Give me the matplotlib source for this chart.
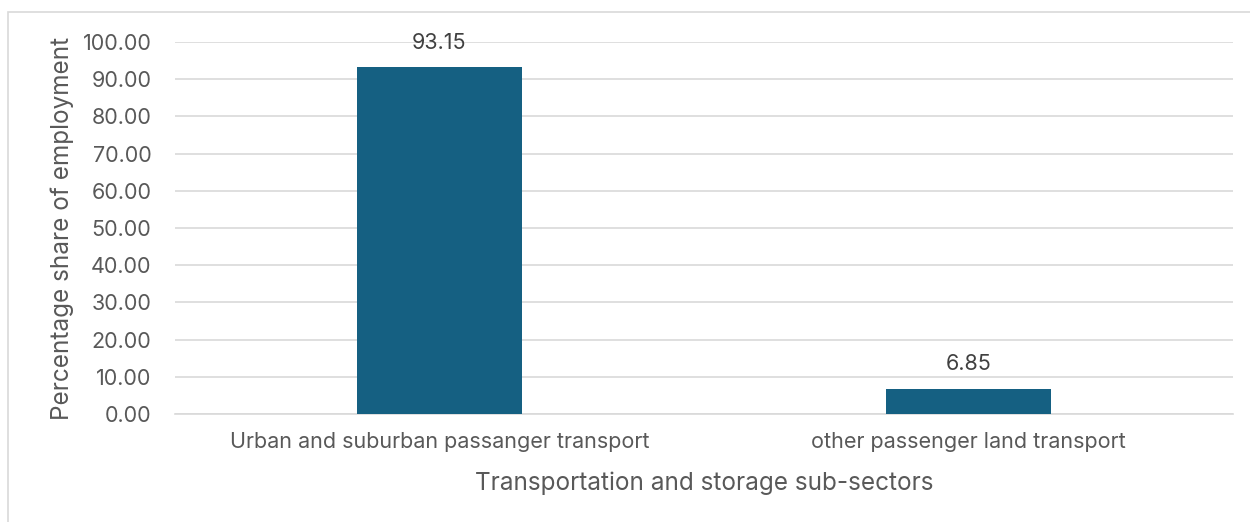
import matplotlib.pyplot as plt
from matplotlib.patches import Rectangle

# share of employment by sub-sector (%)
sectors = ['Urban and suburban passanger transport', 'other passenger land transport']
shares = [93.15, 6.85]
yticks = [0, 10, 20, 30, 40, 50, 60, 70, 80, 90, 100]

bar_color = '#156082'
text_color = '#595959'
grid_color = '#d9d9d9'

plt.rcParams['font.family'] = ['Inter', 'DejaVu Sans']

fig = plt.figure(figsize=(12.5, 5.22), dpi=100)
ax = fig.add_axes([175 / 1250, 1 - 414 / 522, (1233 - 175) / 1250, (414 - 42) / 522])

# chart border
fig.patches.append(Rectangle((8 / 1250, -0.1), 1.2, (522 - 12) / 522 + 0.1,
                             transform=fig.transFigure, fill=False,
                             edgecolor='#d9d9d9', linewidth=1.2))

x = range(len(sectors))
bars = ax.bar(x, shares, width=0.312, color=bar_color, zorder=3)
for rect, v in zip(bars, shares):
    ax.text(rect.get_x() + rect.get_width() / 2, v + 3.8, f'{v:.2f}',
            ha='center', va='bottom', fontsize=15.5, color='#404040', zorder=4)

ax.set_xlim(-0.5, len(sectors) - 0.5)
ax.set_ylim(0, 100)
ax.set_yticks(yticks)
ax.set_yticklabels([f'{t:.2f}' for t in yticks])
ax.set_xticks(list(x))
ax.set_xticklabels(sectors)
ax.yaxis.grid(True, color=grid_color, linewidth=1.2, zorder=0)
ax.tick_params(axis='both', length=0, labelsize=15.5, labelcolor=text_color)
ax.tick_params(axis='y', pad=17)
ax.tick_params(axis='x', pad=13)
for s in ['top', 'right', 'left']:
    ax.spines[s].set_visible(False)
ax.spines['bottom'].set_color(grid_color)
ax.spines['bottom'].set_linewidth(1.2)

ax.set_xlabel('Transportation and storage sub-sectors', fontsize=17.5,
              color=text_color, labelpad=14)
ax.set_ylabel('Percentage share of employment', fontsize=17.5,
              color=text_color, labelpad=6)

fig.savefig('out.png', dpi=100)
